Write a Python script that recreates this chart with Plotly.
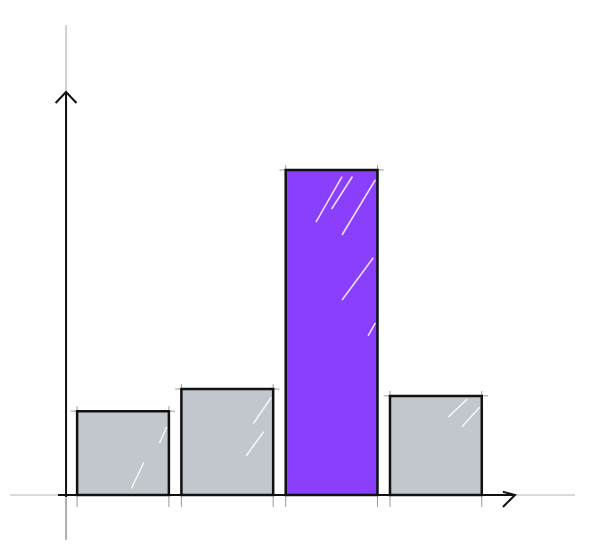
import plotly.graph_objects as go

categories = ["A", "B", "C", "D"]
values = [25.8, 32.6, 100, 30.5]
highlight = "C"

grey = "#c1c7cd"
purple = "#8a3ffc"
colors = [purple if c == highlight else grey for c in categories]

xpos = list(range(len(categories)))

fig = go.Figure()
fig.add_trace(go.Bar(
    x=xpos, y=values, width=0.88,
    marker=dict(color=colors, line=dict(color="#111111", width=2.5)),
    hoverinfo="skip",
))

# axis geometry (data coordinates)
x_axis_pos = -0.546
shapes = []
# grey guide lines
shapes.append(dict(type="line", x0=x_axis_pos, x1=x_axis_pos, y0=-13.8, y1=144.6,
                   line=dict(color="#b5b5b5", width=1.2), layer="below"))
shapes.append(dict(type="line", x0=-1.083, x1=4.334, y0=0, y1=0,
                   line=dict(color="#b5b5b5", width=1.2), layer="below"))
# black axes
shapes.append(dict(type="line", x0=x_axis_pos, x1=x_axis_pos, y0=-0.6, y1=124,
                   line=dict(color="#111111", width=2)))
shapes.append(dict(type="line", x0=-0.623, x1=3.758, y0=0, y1=0,
                   line=dict(color="#111111", width=2)))
# arrow heads (open chevrons)
shapes.append(dict(type="path",
                   path=f"M {x_axis_pos-0.1} 120.6 L {x_axis_pos} 124 L {x_axis_pos+0.1} 120.6",
                   line=dict(color="#111111", width=2)))
shapes.append(dict(type="path",
                   path="M 3.643 1.0 L 3.758 0 L 3.643 -3.7",
                   line=dict(color="#111111", width=2)))
# sketchy tick marks at bar edges below the baseline
for i, v in zip(xpos, values):
    for edge in (i - 0.44, i + 0.44):
        shapes.append(dict(type="line", x0=edge, x1=edge, y0=-3.7, y1=v + 1.5,
                           line=dict(color="#9a9a9a", width=1), layer="below"))
    shapes.append(dict(type="line", x0=i - 0.5, x1=i + 0.5, y0=v, y1=v,
                       line=dict(color="#9a9a9a", width=1), layer="below"))
# axis tail mark
shapes.append(dict(type="line", x0=x_axis_pos, x1=x_axis_pos, y0=-13.8, y1=-1,
                   line=dict(color="#999999", width=1.2), layer="below"))

# glossy white streaks on the bars (decorative)
streaks = [
    (1.25, 22, 1.42, 30), (1.18, 12, 1.35, 19.5),
    (2.0, 88, 2.2, 98), (1.85, 84, 2.1, 98), (2.1, 80, 2.42, 97),
    (2.1, 60, 2.4, 73), (2.35, 49, 2.42, 53),
    (0.08, 2, 0.2, 10), (0.35, 16, 0.42, 21),
    (3.12, 24, 3.3, 29.5), (3.25, 21, 3.42, 27),
]
for x0, y0, x1, y1 in streaks:
    shapes.append(dict(type="line", x0=x0, x1=x1, y0=y0, y1=y1,
                       line=dict(color="rgba(255,255,255,0.85)", width=1.5)))

# the page body has an 8px margin; shift ranges so content lands in place
fig.update_layout(
    width=591, height=560,
    margin=dict(l=0, r=0, t=0, b=0),
    paper_bgcolor="white", plot_bgcolor="white",
    showlegend=False,
    xaxis=dict(range=[-1.1026, 4.564], visible=False, fixedrange=True),
    yaxis=dict(range=[-22.46, 149.85], visible=False, fixedrange=True),
    shapes=shapes,
)

fig.write_html("out.html")
